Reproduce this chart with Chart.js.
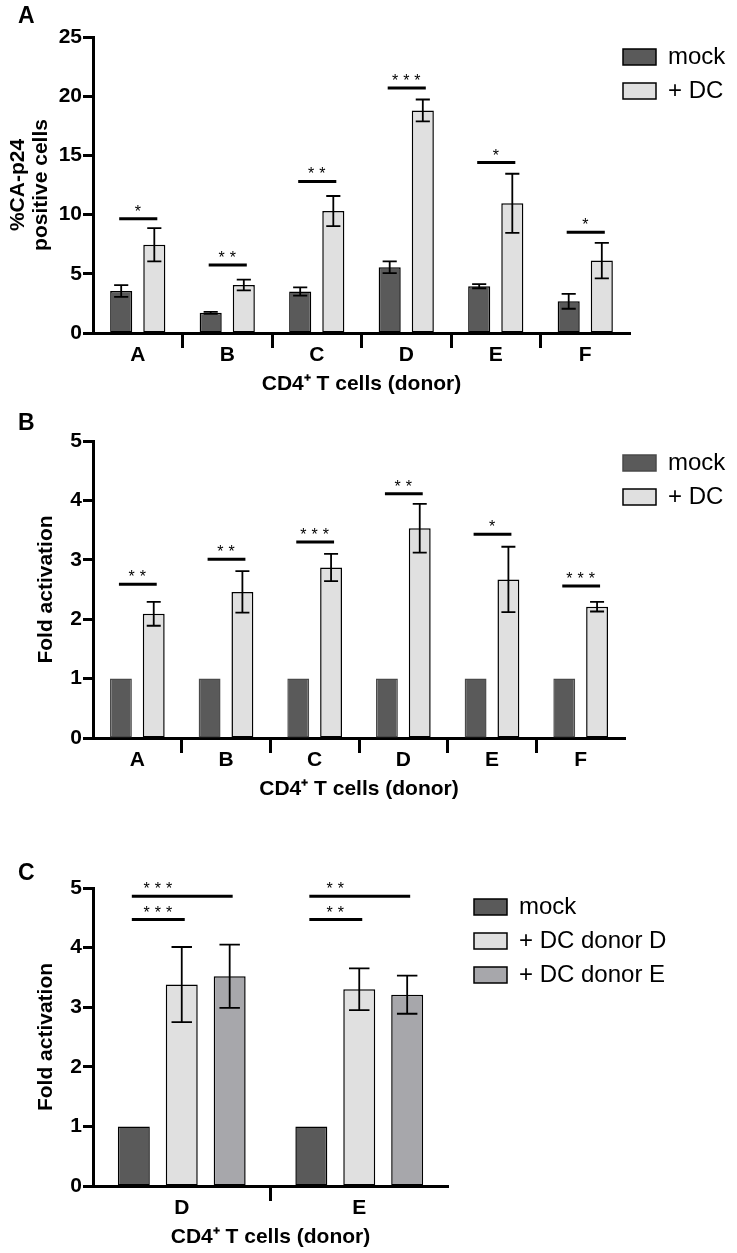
<!DOCTYPE html>
<html>
<head>
<meta charset="utf-8">
<script src="https://cdn.jsdelivr.net/npm/chart.js@4.4.1/dist/chart.umd.min.js"></script>
<style>
  html, body { margin: 0; padding: 0; background: #fff; overflow: hidden; }
  body { width: 737px; height: 1253px; position: relative; }
  .panel { position: absolute; left: 0; width: 737px; }
  .letter { position: absolute; left: 18px; font: bold 23px "Liberation Sans", Arial, sans-serif; line-height: 23px; color: #000; }
</style>
</head>
<body>
<div class="panel" style="top:0;height:399px"><canvas id="chartA"></canvas></div>
<div class="panel" style="top:400px;height:404px"><canvas id="chartB"></canvas></div>
<div class="panel" style="top:810px;height:442px"><canvas id="chartC"></canvas></div>
<div class="letter" style="top:4px">A</div>
<div class="letter" style="top:411px">B</div>
<div class="letter" style="top:861px">C</div>
<script>
// --- panel A: % CA-p24 positive cells
const donors = ['A', 'B', 'C', 'D', 'E', 'F'];
const mockA = [3.55, 1.7, 3.5, 5.55, 3.95, 2.68];
const mockAErr = [0.5, 0.08, 0.35, 0.5, 0.17, 0.63];
const dcA = [7.45, 4.05, 10.3, 18.8, 10.95, 6.12];
const dcAErr = [1.4, 0.45, 1.27, 0.92, 2.5, 1.5];
const sigAY = [9.65, 5.75, 12.8, 20.7, 14.4, 8.5];
const sigAStars = ['*', '**', '**', '***', '*', '*'];
const ticksA = [0, 5, 10, 15, 20, 25];

// --- panel B: fold activation
const mockB = [1, 1, 1, 1, 1, 1];
const dcB = [2.09, 2.46, 2.87, 3.53, 2.67, 2.21];
const dcBErr = [0.2, 0.35, 0.23, 0.41, 0.55, 0.08];
const sigBY = [2.59, 3.01, 3.3, 4.11, 3.43, 2.56];
const sigBStars = ['**', '**', '***', '**', '*', '***'];
const ticksFold = [0, 1, 2, 3, 4, 5];

// --- panel C: fold activation, DC donors D / E
const donorsC = ['D', 'E'];
const mockC = [1, 1];
const dcDonorD = [3.38, 3.3];
const dcDonorDErr = [0.63, 0.35];
const dcDonorE = [3.52, 3.21];
const dcDonorEErr = [0.53, 0.32];
const sigCNearY = [4.47, 4.47];
const sigCNearStars = ['***', '**'];
const sigCFarY = [4.86, 4.86];
const sigCFarStars = ['***', '**'];

const MOCK = '#5a5a5a';
const LIGHT = '#e0e0e0';
const MID = '#a7a7ab';
const FONT = '"Liberation Sans", Arial, sans-serif';

Chart.defaults.font.family = FONT;
Chart.defaults.color = '#000';

// error bars + significance lines
const marks = (brackets) => ({
  id: 'marks',
  afterDatasetsDraw(chart) {
    const { ctx } = chart;
    const y = chart.scales.y;
    ctx.save();
    ctx.strokeStyle = '#000';
    ctx.fillStyle = '#000';
    chart.data.datasets.forEach((ds, di) => {
      if (!ds.errorBars) return;
      chart.getDatasetMeta(di).data.forEach((bar, i) => {
        const e = ds.errorBars[i];
        if (!e) return;
        const top = y.getPixelForValue(ds.data[i] + e);
        const bot = y.getPixelForValue(ds.data[i] - e);
        const cap = bar.width * 0.32;
        ctx.lineWidth = 1.8;
        ctx.beginPath();
        ctx.moveTo(bar.x, top); ctx.lineTo(bar.x, bot);
        ctx.moveTo(bar.x - cap, top); ctx.lineTo(bar.x + cap, top);
        ctx.moveTo(bar.x - cap, bot); ctx.lineTo(bar.x + cap, bot);
        ctx.stroke();
      });
    });
    brackets.forEach(b => {
      const a = chart.getDatasetMeta(b.from).data;
      const c = chart.getDatasetMeta(b.to).data;
      const s = chart.getDatasetMeta(b.starsTo).data;
      b.y.forEach((v, i) => {
        const py = y.getPixelForValue(v);
        ctx.lineWidth = 3;
        ctx.beginPath();
        ctx.moveTo(a[i].x - 2, py);
        ctx.lineTo(c[i].x + 3, py);
        ctx.stroke();
        ctx.font = '16px ' + FONT;
        ctx.letterSpacing = '5px';
        ctx.textAlign = 'center';
        ctx.textBaseline = 'alphabetic';
        ctx.fillText(b.stars[i], (a[i].x + s[i].x) / 2 + 2.5, py - 2);
      });
    });
    ctx.restore();
  }
});

// put the legend boxes where they sit in the figure
const legendAt = (x, y) => ({
  id: 'legendAt',
  afterLayout(chart) {
    const lg = chart.legend;
    const dy = y - lg.top;
    lg.left = x;
    lg.right = chart.width;
    lg.width = lg.right - lg.left;
    lg.top += dy; lg.bottom += dy;
  }
});

const separatorColor = (c) => (c.index > 0 ? '#000' : 'rgba(0,0,0,0)');

function makeOptions(cfg) {
  return {
    responsive: true,
    maintainAspectRatio: false,
    animation: false,
    layout: { padding: { top: cfg.top, right: cfg.right, left: 0, bottom: 0 } },
    plugins: {
      tooltip: { enabled: false },
      legend: {
        position: 'right',
        align: 'start',
        fullSize: false,
        maxWidth: cfg.legendWidth,
        labels: {
          boxWidth: 33,
          boxHeight: 16,
          padding: 10,
          textAlign: 'left',
          color: '#000',
          font: { size: 24, family: FONT }
        }
      }
    },
    scales: {
      x: {
        z: 1,
        grid: {
          offset: true,
          drawOnChartArea: false,
          drawTicks: true,
          tickLength: 15,
          tickWidth: 3,
          tickColor: separatorColor
        },
        border: { display: true, color: '#000', width: 3 },
        ticks: { padding: -3, color: '#000', font: { size: 21, weight: 'bold', lineHeight: 1 } },
        title: {
          display: true,
          text: 'CD4\u207A T cells (donor)',
          color: '#000',
          font: { size: 21, weight: 'bold', lineHeight: 1.1 },
          padding: { top: 0, bottom: 3 }
        },
        afterFit: (s) => { s.height = 66; }
      },
      y: {
        z: 1,
        min: 0,
        max: cfg.max,
        afterBuildTicks: (s) => { s.ticks = cfg.ticks.map(v => ({ value: v })); },
        grid: {
          drawOnChartArea: false,
          drawTicks: true,
          tickLength: 10,
          tickWidth: 3,
          tickColor: '#000'
        },
        border: { display: true, color: '#000', width: 3 },
        ticks: { padding: 1, color: '#000', font: { size: 21, weight: 'bold' } },
        title: {
          display: true,
          text: cfg.yTitle,
          color: '#000',
          font: { size: 21, weight: 'bold', lineHeight: 1.1 },
          padding: { top: cfg.yTitlePad, bottom: 0 }
        },
        afterFit: (s) => { s.width = 93; }
      }
    }
  };
}

const bar = (label, data, color, border, errs, catPct) => ({
  label,
  data,
  backgroundColor: color,
  borderColor: border,
  borderWidth: 1.5,
  borderSkipped: false,
  errorBars: errs,
  categoryPercentage: catPct,
  barPercentage: 0.667
});

new Chart(document.getElementById('chartA'), {
  type: 'bar',
  data: {
    labels: donors,
    datasets: [
      bar('mock', mockA, MOCK, '#000', mockAErr, 0.74),
      bar('+ DC', dcA, LIGHT, '#000', dcAErr, 0.74)
    ]
  },
  options: makeOptions({ top: 37, right: 7, legendWidth: 100, max: 25, ticks: ticksA,
    yTitle: ['%CA-p24', 'positive cells'], yTitlePad: 7 }),
  plugins: [
    marks([{ from: 0, to: 1, starsTo: 1, y: sigAY, stars: sigAStars }]),
    legendAt(613, 35)
  ]
});

new Chart(document.getElementById('chartB'), {
  type: 'bar',
  data: {
    labels: donors,
    datasets: [
      bar('mock', mockB, MOCK, '#4a4a4a', null, 0.74),
      bar('+ DC', dcB, LIGHT, '#000', dcBErr, 0.74)
    ]
  },
  options: makeOptions({ top: 41, right: 12, legendWidth: 100, max: 5, ticks: ticksFold,
    yTitle: 'Fold activation', yTitlePad: 35 }),
  plugins: [
    marks([{ from: 0, to: 1, starsTo: 1, y: sigBY, stars: sigBStars }]),
    legendAt(613, 41)
  ]
});

new Chart(document.getElementById('chartC'), {
  type: 'bar',
  data: {
    labels: donorsC,
    datasets: [
      bar('mock', mockC, MOCK, '#000', null, 0.81),
      bar('+ DC donor D', dcDonorD, LIGHT, '#000', dcDonorDErr, 0.81),
      bar('+ DC donor E', dcDonorE, MID, '#000', dcDonorEErr, 0.81)
    ]
  },
  options: makeOptions({ top: 78, right: 109, legendWidth: 180, max: 5, ticks: ticksFold,
    yTitle: 'Fold activation', yTitlePad: 35 }),
  plugins: [
    marks([
      { from: 0, to: 1, starsTo: 1, y: sigCNearY, stars: sigCNearStars },
      { from: 0, to: 2, starsTo: 1, y: sigCFarY, stars: sigCFarStars }
    ]),
    legendAt(464, 75)
  ]
});
</script>
</body>
</html>
